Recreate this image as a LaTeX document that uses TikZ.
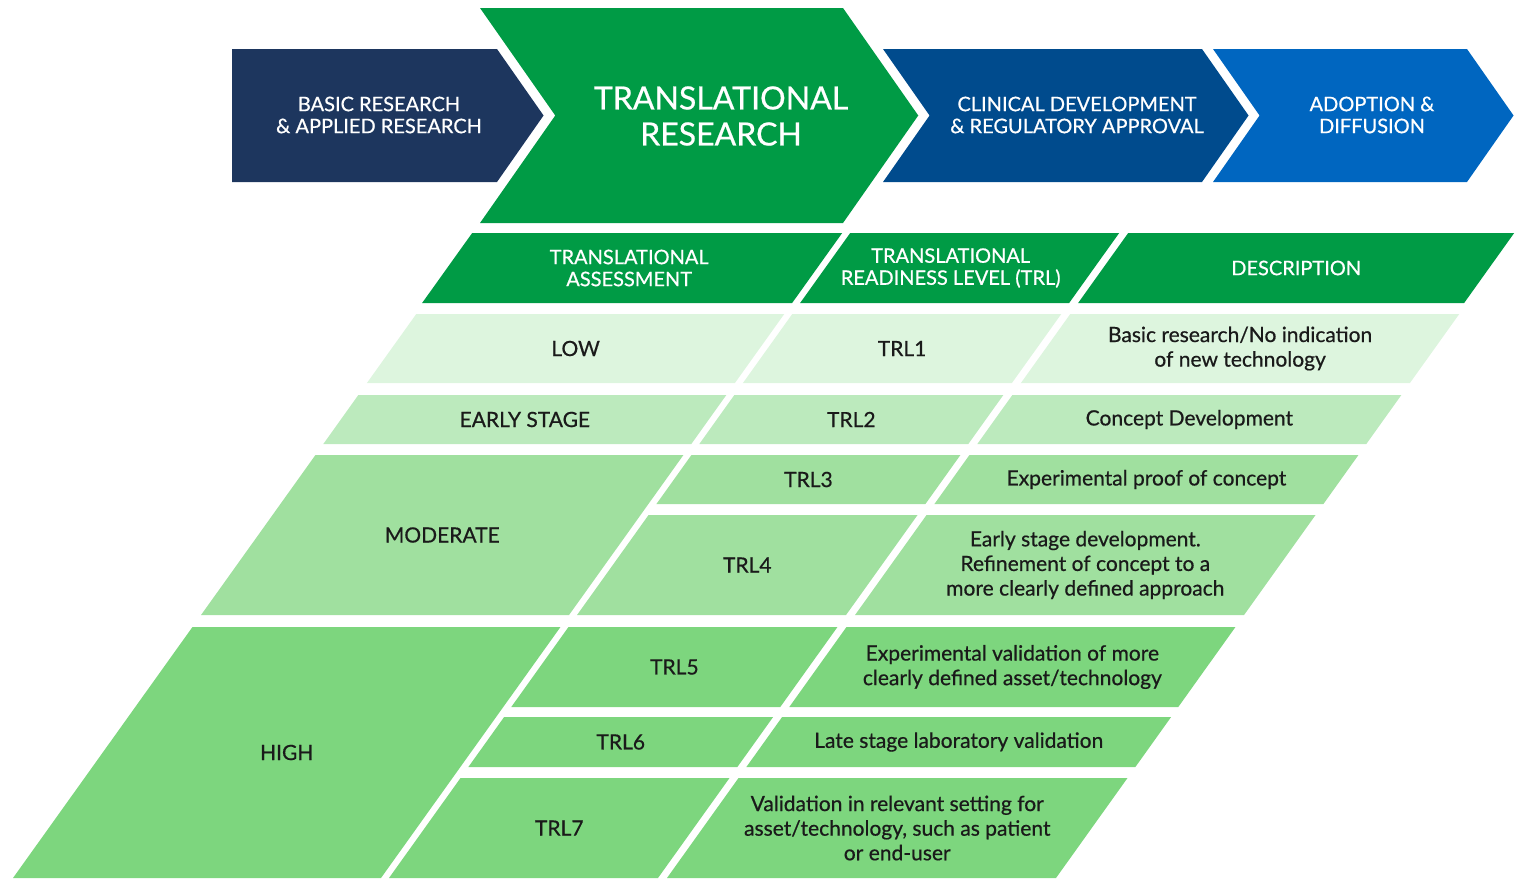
\documentclass[tikz,border=0pt]{standalone}
\usepackage{fontspec}
\setmainfont{Lato}[RawFeature={embolden=0.6}]
\definecolor{navy}{HTML}{1D365E}
\definecolor{trgreen}{HTML}{009B45}
\definecolor{clinblue}{HTML}{004B8D}
\definecolor{adoptblue}{HTML}{0066C0}
\definecolor{lowgreen}{HTML}{DDF5DE}
\definecolor{earlygreen}{HTML}{BCEABD}
\definecolor{modgreen}{HTML}{A0E09F}
\definecolor{highgreen}{HTML}{7DD67E}
\definecolor{inkdark}{HTML}{1A1A1A}
\newcommand{\cellslant}{0.715}
\newcommand{\chevslant}{0.7}

\begin{document}
\begin{tikzpicture}[x=0.5pt, y=-0.5pt, % one unit is one pixel of the reference, y downwards
		bodytext/.style={font=\fontsize{10.5}{12.3}\selectfont, text=inkdark, align=center, inner sep=0pt},
		headtext/.style={font=\fontsize{10}{11}\selectfont, text=white, align=center, inner sep=0pt},
		titletext/.style={font=\fontsize{16}{18}\selectfont, text=white, align=center, inner sep=0pt}]
			% Fix the page to the size of the reference
			\useasboundingbox (0,0) rectangle (1520,895);

			% Macro for a chevron of the top bar.
			% Usage: \drawchevron{x left}{x right}{y top}{y bottom}{notch 0/1}{colour}
			\newcommand{\drawchevron}[6]{
				\fill[#6] (#1,#3) -- (#2,#3) -- ({#2+\chevslant*(#4-#3)/2},{(#3+#4)/2}) -- (#2,#4)
					-- (#1,#4) -- ({#1+#5*\chevslant*(#4-#3)/2},{(#3+#4)/2}) -- cycle;
			}

			% Macro for a slanted cell of the table (u is measured along the bottom line y=878).
			% Usage: \drawcell{name}{u left}{u right}{y top}{y bottom}{colour}{style}{Text}
			\newcommand{\drawcell}[8]{
				\fill[#6] ({#2+\cellslant*(878-#5)},#5) -- ({#3+\cellslant*(878-#5)},#5)
					-- ({#3+\cellslant*(878-#4)},#4) -- ({#2+\cellslant*(878-#4)},#4) -- cycle;
				\node[#7] (#1) at ({(#2+#3)/2+\cellslant*(878-(#4+#5)/2)},{(#4+#5)/2}) {#8};
			}

			% Top bar
			\drawchevron{232}{497}{49}{182}{0}{navy}
			\drawchevron{480}{843}{8}{223}{1}{trgreen}
			\drawchevron{883}{1202}{49}{182}{1}{clinblue}
			\drawchevron{1213}{1467}{49}{182}{1}{adoptblue}
			\node[headtext] (basic) at (379,115) {BASIC RESEARCH\\\& APPLIED RESEARCH};
			\node[titletext] (translational) at (721,116) {TRANSLATIONAL\\RESEARCH};
			\node[headtext] (clinical) at (1077,115) {CLINICAL DEVELOPMENT\\\& REGULATORY APPROVAL};
			\node[headtext] (adoption) at (1372,115) {ADOPTION \&\\DIFFUSION};

			% Table header
			\drawcell{hassess}{11}{381}{233}{303}{trgreen}{headtext, xshift=-1.5pt}{TRANSLATIONAL\\ASSESSMENT}
			\drawcell{htrl}{389}{658}{233}{303}{trgreen}{headtext, xshift=-4.5pt}{TRANSLATIONAL\\READINESS LEVEL (TRL)}
			\drawcell{hdesc}{667}{1053}{233}{303}{trgreen}{headtext}{DESCRIPTION}

			% Low
			\drawcell{low}{13}{381}{314}{383}{lowgreen}{bodytext}{LOW}
			\drawcell{trl1}{389}{658}{314}{383}{lowgreen}{bodytext}{TRL1}
			\drawcell{desc1}{667}{1056}{314}{383}{lowgreen}{bodytext}{Basic research/No indication\\of new technology}

			% Early stage
			\drawcell{early}{13}{381}{395}{444}{earlygreen}{bodytext}{EARLY STAGE}
			\drawcell{trl2}{389}{658}{395}{444}{earlygreen}{bodytext}{TRL2}
			\drawcell{desc2}{667}{1056}{395}{444}{earlygreen}{bodytext}{Concept Development}

			% Moderate
			\drawcell{moderate}{13}{381}{455}{615}{modgreen}{bodytext}{MODERATE}
			\drawcell{trl3}{389}{658}{455}{504}{modgreen}{bodytext}{TRL3}
			\drawcell{desc3}{667}{1056}{455}{504}{modgreen}{bodytext}{Experimental proof of concept}
			\drawcell{trl4}{389}{658}{515}{615}{modgreen}{bodytext}{TRL4}
			\drawcell{desc4}{667}{1056}{515}{615}{modgreen}{bodytext}{Early stage development.\\Refinement of concept to a\\more clearly defined approach}

			% High
			\drawcell{high}{13}{381}{627}{878}{highgreen}{bodytext}{HIGH}
			\drawcell{trl5}{389}{658}{627}{707}{highgreen}{bodytext}{TRL5}
			\drawcell{desc5}{667}{1056}{627}{707}{highgreen}{bodytext}{Experimental validation of more\\clearly defined asset/technology}
			\drawcell{trl6}{389}{658}{717}{767}{highgreen}{bodytext}{TRL6}
			\drawcell{desc6}{667}{1056}{717}{767}{highgreen}{bodytext}{Late stage laboratory validation}
			\drawcell{trl7}{389}{658}{778}{878}{highgreen}{bodytext}{TRL7}
			\drawcell{desc7}{667}{1056}{778}{878}{highgreen}{bodytext}{Validation in relevant setting for\\asset/technology, such as patient\\or end-user}
		\end{tikzpicture}
\end{document}
